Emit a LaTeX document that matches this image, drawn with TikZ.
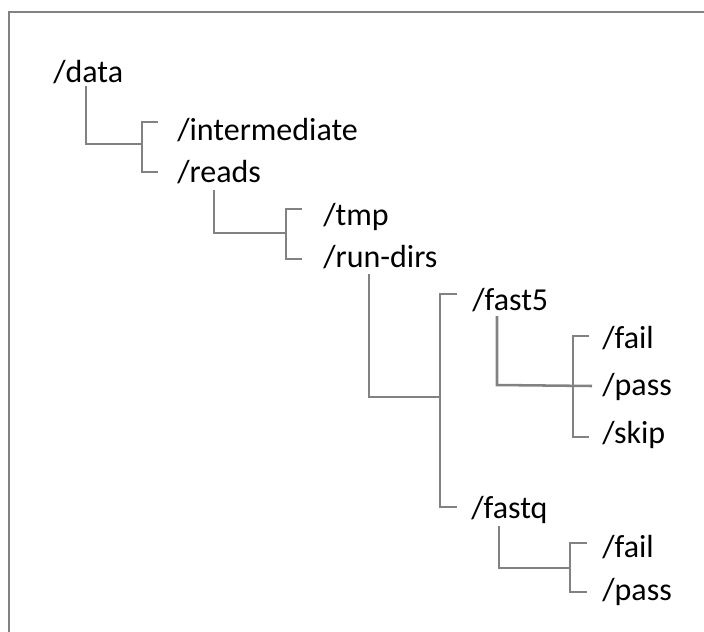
\documentclass[tikz,border=0pt]{standalone}
\usepackage{fontspec}
\usetikzlibrary{calc}
\setmainfont{Carlito}
\definecolor{linegray}{RGB}{130,130,130}
\begin{document}
\begin{tikzpicture}[x=0.75pt,y=-0.75pt,
  dir/.style={anchor=base west,inner sep=0pt,font=\fontsize{24}{28}\selectfont},
  conn/.style={draw=linegray,line width=1.9pt},
  frame/.style={draw=linegray,line width=2.2pt}]
\useasboundingbox (0,0) rectangle (704,632);
% outer frame (top and left edges)
\draw[frame] (9,640) -- (9,12) -- (712,12);

% directory names
\node[dir] (data)    at (53,82)  {/data};
\node[dir] (inter)   at (177,140) {/intermediate};
\node[dir] (reads)   at (177,182) {/reads};
\node[dir] (tmp)     at (323,225) {/tmp};
\node[dir] (rundirs) at (323,267) {/run-dirs};
\node[dir] (fastfive) at (472,310) {/fast5};
\node[dir] (fastq)   at (471,518) {/fastq};
\node[dir] (failA)   at (602,348) {/fail};
\node[dir] (passA)   at (602,395) {/pass};
\node[dir] (skip)    at (602,443) {/skip};
\node[dir] (failB)   at (602,557) {/fail};
\node[dir] (passB)   at (602,600) {/pass};

% /data -> /intermediate, /reads
\coordinate (jA) at (142,144);
\draw[conn] ($(data.base west)+(33,4)$) |- (jA);
\draw[conn] (158,122) -- (142,122) -- (142,172) -- (158,172);

% /reads -> /tmp, /run-dirs
\coordinate (jB) at (286,233);
\draw[conn] ($(reads.base west)+(37,8)$) |- (jB);
\draw[conn] (302,209) -- (286,209) -- (286,259) -- (302,259);

% /run-dirs -> /fast5, /fastq
\coordinate (jC) at (440,397);
\draw[conn] ($(rundirs.base west)+(46,7)$) |- (jC);
\draw[conn] (457,294) -- (440,294) -- (440,507) -- (457,507);

% /fast5 -> /fail, /pass, /skip
\coordinate (jD) at (592,386);
\draw[conn] ($(fastfive.base west)+(25,6)$) -- (497,385) -- (jD);
\draw[conn] (589,336) -- (573,336) -- (573,437) -- (589,437);

% /fastq -> /fail, /pass
\coordinate (jE) at (570,568);
\draw[conn] ($(fastq.base west)+(28,8)$) |- (jE);
\draw[conn] (587,543) -- (570,543) -- (570,592) -- (587,592);
\end{tikzpicture}
\end{document}
